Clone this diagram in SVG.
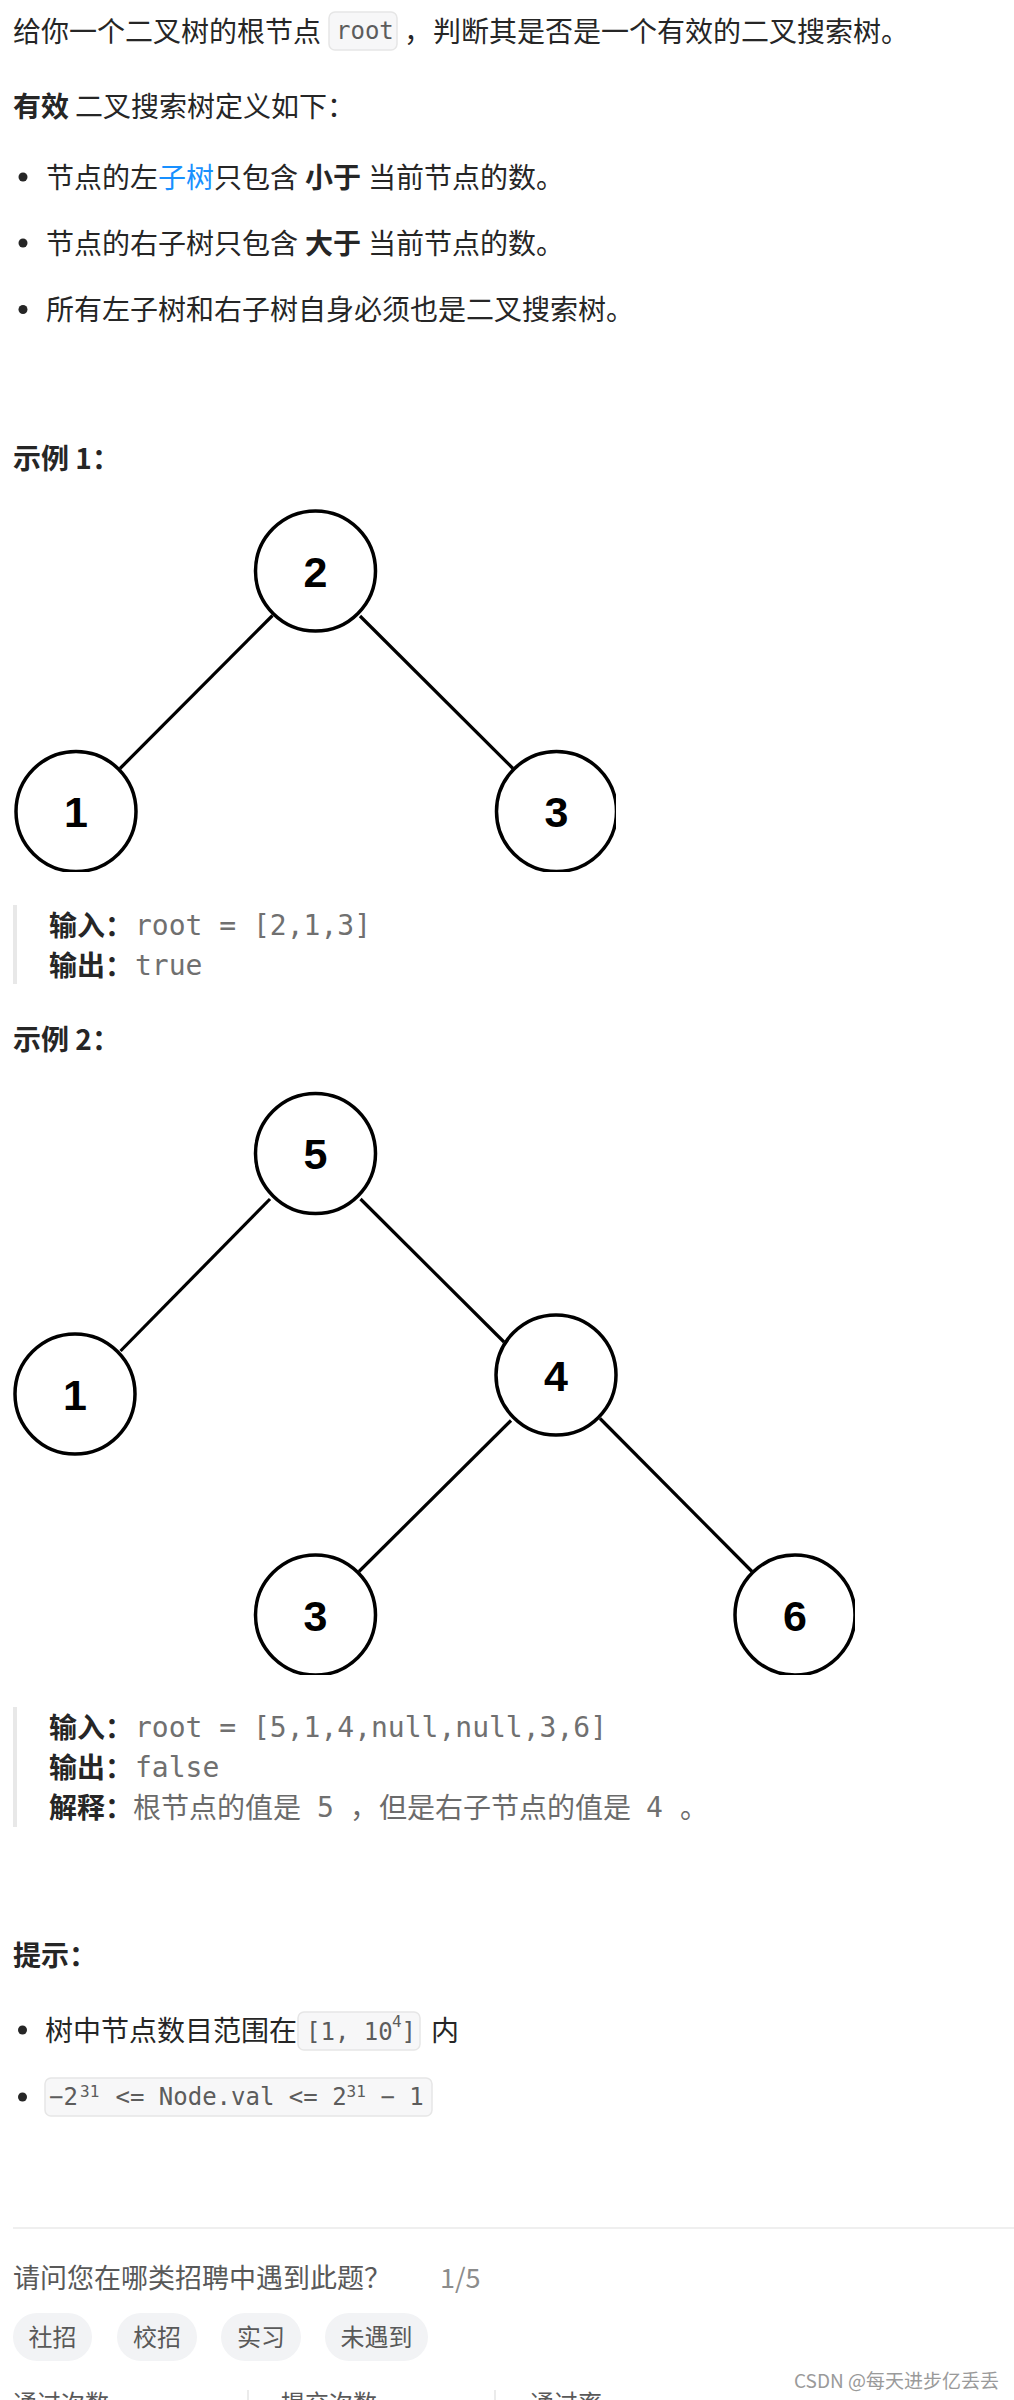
<svg xmlns="http://www.w3.org/2000/svg" width="1014" height="2400" viewBox="0 0 1014 2400">
<defs>
<style>
.t{font-family:"Noto Sans CJK SC","Noto Sans",sans-serif;font-size:28px;fill:#262626}
.b{font-weight:bold}
.blue{fill:#1890ff}
.g{fill:#6b6b6b}
.m{font-family:"DejaVu Sans Mono","Liberation Mono",monospace;font-size:28px;fill:#707070}
.ic{font-family:"DejaVu Sans Mono","Liberation Mono",monospace;font-size:24px;fill:#5c5c5c}
.sup{font-size:16px}
.box{fill:#f7f7f8;stroke:#e6e6e6;stroke-width:1.5}
.bar{fill:#e8e8e8}
.dot{fill:#262626}
.nd{fill:#fff;stroke:#000;stroke-width:3.5}
.nt{font-family:"Liberation Sans",Arial,sans-serif;font-weight:bold;font-size:43px;fill:#000;text-anchor:middle}
.ed{stroke:#000;stroke-width:3.2;fill:none}
.pill{fill:#f2f3f5}
.pt{font-family:"Noto Sans CJK SC",sans-serif;font-size:24px;fill:#595959;text-anchor:middle}
.q{font-family:"Noto Sans CJK SC",sans-serif;font-size:27px;fill:#595959}
</style>
<clipPath id="clip1"><rect x="0" y="490" width="616" height="382"/></clipPath>
<clipPath id="clip2"><rect x="0" y="1070" width="855" height="605"/></clipPath>
</defs>
<rect width="1014" height="2400" fill="#fff"/>

<g id="intro">
<text class="t" x="13" y="42">给你一个二叉树的根节点</text>
<rect class="box" x="329" y="12" width="68" height="38" rx="6"/>
<text class="ic" x="336" y="39">root</text>
<text class="t" x="404" y="42">，</text>
<text class="t" x="433" y="42">判断其是否是一个有效的二叉搜索树。</text>
<text class="t" y="116.5"><tspan x="13" class="b">有效</tspan><tspan x="75">二叉搜索树定义如下：</tspan></text>
</g>

<g id="rules">
<circle class="dot" cx="23" cy="177" r="4.5"/>
<text class="t" y="187.5"><tspan x="46">节点的左</tspan><tspan x="158" class="blue">子树</tspan><tspan x="214">只包含</tspan><tspan x="305" class="b">小于</tspan><tspan x="368">当前节点的数。</tspan></text>
<circle class="dot" cx="23" cy="243" r="4.5"/>
<text class="t" y="253.5"><tspan x="46">节点的右子树只包含</tspan><tspan x="305" class="b">大于</tspan><tspan x="368">当前节点的数。</tspan></text>
<circle class="dot" cx="23" cy="309.5" r="4.5"/>
<text class="t" x="46" y="320">所有左子树和右子树自身必须也是二叉搜索树。</text>
</g>

<g id="example1-title"><text class="t b" x="13" y="468.5">示例 1：</text></g>

<g id="tree1" clip-path="url(#clip1)">
<g id="tree1-edges">
<line class="ed" x1="272.5" y1="615.5" x2="120" y2="768.5"/>
<line class="ed" x1="360" y1="616" x2="513" y2="768.5"/>
</g>
<g id="t1-n2"><circle class="nd" cx="315.5" cy="571" r="60"/><text class="nt" x="315.5" y="586.5">2</text></g>
<g id="t1-n1"><circle class="nd" cx="76" cy="811.5" r="60"/><text class="nt" x="76" y="827">1</text></g>
<g id="t1-n3"><circle class="nd" cx="556.5" cy="811.5" r="60"/><text class="nt" x="556.5" y="827">3</text></g>
</g>

<g id="example1-io">
<rect class="bar" x="13" y="905" width="4" height="79"/>
<text class="t b" x="49" y="935.5">输入：</text>
<text class="m" x="135" y="935">root = [2,1,3]</text>
<text class="t b" x="49" y="975.5">输出：</text>
<text class="m" x="135" y="975">true</text>
</g>

<g id="example2-title"><text class="t b" x="13" y="1049.5">示例 2：</text></g>

<g id="tree2" clip-path="url(#clip2)">
<g id="tree2-edges">
<line class="ed" x1="270" y1="1199" x2="120.5" y2="1351"/>
<line class="ed" x1="360.5" y1="1199" x2="504" y2="1342"/>
<line class="ed" x1="511" y1="1420.5" x2="359" y2="1571.5"/>
<line class="ed" x1="600" y1="1418.5" x2="752" y2="1571.5"/>
</g>
<g id="t2-n5"><circle class="nd" cx="315.5" cy="1153.5" r="60"/><text class="nt" x="315.5" y="1169">5</text></g>
<g id="t2-n1"><circle class="nd" cx="75" cy="1394" r="60"/><text class="nt" x="75" y="1409.5">1</text></g>
<g id="t2-n4"><circle class="nd" cx="556" cy="1375" r="60"/><text class="nt" x="556" y="1390.5">4</text></g>
<g id="t2-n3"><circle class="nd" cx="315.5" cy="1615" r="60"/><text class="nt" x="315.5" y="1630.5">3</text></g>
<g id="t2-n6"><circle class="nd" cx="795" cy="1615" r="60"/><text class="nt" x="795" y="1630.5">6</text></g>
</g>

<g id="example2-io">
<rect class="bar" x="13" y="1707" width="4" height="120"/>
<text class="t b" x="49" y="1737.5">输入：</text>
<text class="m" x="135" y="1737">root = [5,1,4,null,null,3,6]</text>
<text class="t b" x="49" y="1777.5">输出：</text>
<text class="m" x="135" y="1777">false</text>
<text class="t b" x="49" y="1817.5">解释：</text>
<text class="t g" y="1817.5"><tspan x="133">根节点的值是</tspan><tspan x="350">，</tspan><tspan x="379">但是右子节点的值是</tspan><tspan x="680">。</tspan></text>
<text class="m" y="1817"><tspan x="317">5</tspan><tspan x="646">4</tspan></text>
</g>

<g id="hints">
<text class="t b" x="13" y="1965.5">提示：</text>
<circle class="dot" cx="22.5" cy="2030" r="4.5"/>
<text class="t" x="45" y="2041">树中节点数目范围在</text>
<rect class="box" x="298" y="2012" width="122" height="38" rx="6"/>
<text class="ic" y="2040"><tspan x="306">[1, 10</tspan><tspan class="sup" x="392" y="2027">4</tspan><tspan x="401.5" y="2040">]</tspan></text>
<text class="t" x="431" y="2041">内</text>
<circle class="dot" cx="22.5" cy="2097" r="4.5"/>
<rect class="box" x="45" y="2078" width="387" height="38" rx="6"/>
<text class="ic" y="2105"><tspan x="49">−2</tspan><tspan class="sup" x="80" y="2096.5">31</tspan><tspan x="101" y="2105"> &lt;= Node.val &lt;= 2</tspan><tspan class="sup" x="346.6" y="2096.5">31</tspan><tspan x="366" y="2105"> − 1</tspan></text>
</g>

<g id="survey">
<line x1="13" y1="2228" x2="1014" y2="2228" stroke="#efefef" stroke-width="2"/>
<text class="q" x="13" y="2288">请问您在哪类招聘中遇到此题？</text>
<text class="q" x="440" y="2288" fill="#8c8c8c" style="fill:#8c8c8c">1/5</text>
<g id="pill1"><rect class="pill" x="13" y="2313" width="79" height="48" rx="24"/><text class="pt" x="52.5" y="2346">社招</text></g>
<g id="pill2"><rect class="pill" x="117" y="2313" width="80" height="48" rx="24"/><text class="pt" x="157" y="2346">校招</text></g>
<g id="pill3"><rect class="pill" x="221" y="2313" width="80" height="48" rx="24"/><text class="pt" x="261" y="2346">实习</text></g>
<g id="pill4"><rect class="pill" x="325" y="2313" width="103" height="48" rx="24"/><text class="pt" x="376.5" y="2346">未遇到</text></g>
</g>

<g id="stats">
<text class="q" x="13" y="2412" style="font-size:24px">通过次数</text>
<line x1="248" y1="2390" x2="248" y2="2400" stroke="#e5e5e5" stroke-width="1.5"/>
<text class="q" x="281" y="2412" style="font-size:24px">提交次数</text>
<line x1="495" y1="2390" x2="495" y2="2400" stroke="#e5e5e5" stroke-width="1.5"/>
<text class="q" x="530" y="2412" style="font-size:24px">通过率</text>
</g>

<g id="watermark"><text x="999" y="2388" text-anchor="end" style="font-family:'Noto Sans CJK SC',sans-serif;font-size:19px;fill:#9a9a9a">CSDN @每天进步亿丢丢</text></g>
</svg>
